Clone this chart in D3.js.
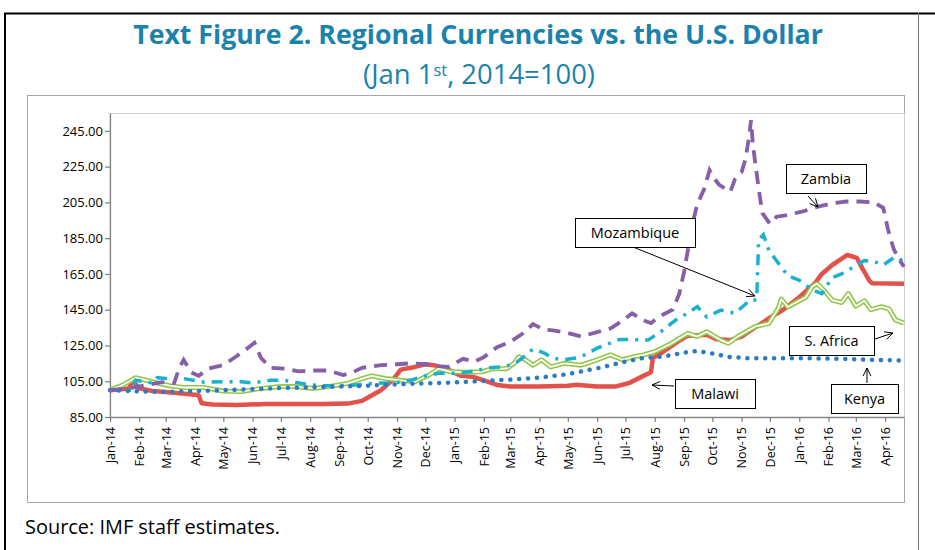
<!DOCTYPE html>
<html>
<head>
<meta charset="utf-8">
<script src="https://cdn.jsdelivr.net/npm/d3@7"></script>
<style>
  body { margin: 0; background: #fff; }
  svg { display: block; }
</style>
</head>
<body>
<svg id="chart" width="935" height="550"></svg>
<script>
// values (Jan 1st, 2014 = 100)
var zambia = [
  ["2014-01-01",100],["2014-01-20",101],["2014-02-10",103],["2014-02-25",104.5],["2014-03-10",104],
  ["2014-03-15",112],["2014-03-20",117],["2014-03-28",110],["2014-04-05",108],["2014-04-15",112],
  ["2014-05-01",114],["2014-05-15",119],["2014-05-28",124],["2014-06-03",126.5],["2014-06-10",118],
  ["2014-06-20",112.5],["2014-07-05",112],["2014-07-20",110.5],["2014-08-05",111],["2014-08-20",111],
  ["2014-09-05",108.5],["2014-09-15",110],["2014-09-25",112.5],["2014-10-15",114],["2014-11-01",114.5],
  ["2014-11-15",115],["2014-12-01",114.5],["2014-12-15",113.5],["2014-12-25",113],["2015-01-10",117.5],
  ["2015-01-22",116],["2015-02-01",118.5],["2015-02-15",124],["2015-03-01",127],["2015-03-15",132],
  ["2015-03-25",137],["2015-04-05",134],["2015-04-15",133.5],["2015-05-01",132],["2015-05-15",130],
  ["2015-06-01",132.5],["2015-06-15",134.5],["2015-06-28",139],["2015-07-08",143],["2015-07-20",139],
  ["2015-07-28",137.5],["2015-08-05",141],["2015-08-20",145],["2015-08-27",154],["2015-09-01",166],
  ["2015-09-05",178],["2015-09-10",193],["2015-09-15",204],["2015-09-22",212],["2015-09-28",223],
  ["2015-10-02",219],["2015-10-08",215],["2015-10-15",212.5],["2015-10-20",211],["2015-10-25",218],
  ["2015-11-01",222],["2015-11-05",229],["2015-11-09",242],["2015-11-11",251],["2015-11-13",237],
  ["2015-11-16",225],["2015-11-19",213],["2015-11-23",199],["2015-12-01",193],["2015-12-08",197],
  ["2015-12-20",198],["2016-01-05",200],["2016-01-20",202.5],["2016-02-05",204.5],["2016-02-20",205.5],
  ["2016-03-05",205.5],["2016-03-20",205],["2016-03-30",202],["2016-04-04",190],["2016-04-10",179],
  ["2016-04-16",173],["2016-04-21",169]
];

var mozambique = [
  ["2014-01-01",100],["2014-01-25",100],["2014-01-28",105.5],["2014-02-15",104],["2014-02-20",107],
  ["2014-03-01",106.5],["2014-03-20",106.5],["2014-04-10",104.5],["2014-05-01",104.7],["2014-05-20",104.7],
  ["2014-06-01",104],["2014-06-20",105.5],["2014-07-05",105.5],["2014-07-15",104.5],["2014-08-01",103],
  ["2014-08-15",102.5],["2014-09-01",102.5],["2014-09-20",103],["2014-10-10",104],["2014-10-25",103.8],
  ["2014-11-15",105.5],["2014-12-01",108],["2014-12-15",109.5],["2015-01-05",109.4],["2015-01-25",111],
  ["2015-02-05",112.5],["2015-02-20",113],["2015-03-05",114.5],["2015-03-15",118.5],["2015-03-25",123],
  ["2015-04-05",121],["2015-04-15",118],["2015-04-25",117],["2015-05-10",118],["2015-05-20",120],
  ["2015-06-01",123.5],["2015-06-10",125.3],["2015-06-25",128.4],["2015-07-25",128],["2015-08-10",133.7],
  ["2015-08-25",140],["2015-09-05",143],["2015-09-15",146.7],["2015-09-25",141],["2015-10-10",144.8],
  ["2015-10-25",143],["2015-11-10",150.4],["2015-11-17",150.5],["2015-11-19",184],["2015-11-24",187],
  ["2015-11-30",178],["2015-12-10",171],["2015-12-20",164],["2016-01-01",161.5],["2016-01-15",156],
  ["2016-01-25",154],["2016-02-05",163],["2016-02-15",165],["2016-02-28",169],["2016-03-10",172.5],
  ["2016-03-20",172],["2016-03-30",170],["2016-04-10",174],["2016-04-16",174],["2016-04-21",170.5]
];

var malawi = [
  ["2014-01-01",100],["2014-01-21",101],["2014-01-25",105.5],["2014-02-01",101],["2014-02-15",99.5],
  ["2014-03-01",99],["2014-03-15",98.3],["2014-04-01",97.5],["2014-04-05",97],["2014-04-08",92.7],
  ["2014-04-20",92],["2014-05-15",91.7],["2014-06-15",92.3],["2014-07-15",92.3],["2014-08-15",92.3],
  ["2014-09-10",92.5],["2014-09-25",94],["2014-10-05",97],["2014-10-15",100],["2014-10-28",106],
  ["2014-11-05",111.5],["2014-11-20",113],["2014-12-01",114.5],["2014-12-10",114],["2014-12-25",111.5],
  ["2015-01-08",108],["2015-01-20",107.5],["2015-02-01",105.5],["2015-02-15",102.9],["2015-03-01",102],
  ["2015-04-01",102],["2015-05-01",102.5],["2015-05-10",103],["2015-06-01",102],["2015-06-20",102],
  ["2015-07-05",104],["2015-07-20",108],["2015-07-28",110],["2015-07-30",118],["2015-08-10",121.5],
  ["2015-08-25",127],["2015-09-05",130.5],["2015-09-25",131],["2015-10-05",128.5],["2015-10-20",128],
  ["2015-11-01",130],["2015-11-15",135],["2015-12-01",140.5],["2015-12-15",145],["2016-01-01",152],
  ["2016-01-18",160],["2016-01-25",165],["2016-02-05",170],["2016-02-21",175.6],["2016-03-02",174],
  ["2016-03-08",168],["2016-03-15",161.5],["2016-03-18",159.8],["2016-04-21",159.5]
];

var southAfrica = [
  ["2014-01-01",100],["2014-01-15",103],["2014-01-28",107],["2014-02-05",106],["2014-02-20",104],
  ["2014-03-05",102.5],["2014-03-20",101.5],["2014-04-10",101.5],["2014-05-01",99.5],["2014-05-20",99.2],
  ["2014-06-10",101],["2014-07-01",102],["2014-07-15",102],["2014-08-05",101],["2014-08-20",102],
  ["2014-09-10",103.8],["2014-09-25",106.5],["2014-10-05",108],["2014-10-20",106.5],["2014-11-05",105.5],
  ["2014-11-20",104.7],["2014-12-05",108.5],["2014-12-15",112],["2014-12-28",110.3],["2015-01-15",110],
  ["2015-01-30",110.3],["2015-02-10",112],["2015-02-25",112],["2015-03-05",115],["2015-03-10",118.7],
  ["2015-03-17",117],["2015-03-25",114],["2015-04-03",117],["2015-04-13",113],["2015-04-27",115],
  ["2015-05-15",114],["2015-06-01",117],["2015-06-15",119.7],["2015-06-28",117],["2015-07-10",118.7],
  ["2015-07-20",119.7],["2015-08-01",121.5],["2015-08-18",126],["2015-09-05",131.8],["2015-09-15",130],
  ["2015-09-25",132.7],["2015-10-10",128],["2015-10-18",126.2],["2015-10-28",130],["2015-11-15",135.5],
  ["2015-11-30",137.4],["2015-12-10",146],["2015-12-13",151],["2015-12-20",146.5],["2016-01-01",150],
  ["2016-01-08",152],["2016-01-15",158],["2016-01-20",159.5],["2016-01-27",156],["2016-02-05",150.4],
  ["2016-02-15",149],["2016-02-22",154],["2016-03-01",147],["2016-03-10",150],["2016-03-17",145],
  ["2016-03-28",146.7],["2016-04-05",145.5],["2016-04-12",139.3],["2016-04-21",137.5]
];

var kenya = [
  ["2014-01-01",100],["2014-02-01",99.3],["2014-03-01",99],["2014-04-01",99.5],["2014-05-01",100],
  ["2014-06-01",100.5],["2014-07-01",101.2],["2014-08-01",101.6],["2014-09-01",102],["2014-10-01",102.5],
  ["2014-11-01",103.3],["2014-12-01",103.8],["2015-01-01",104.3],["2015-02-01",105.2],["2015-03-01",105.9],
  ["2015-04-01",107],["2015-05-01",109],["2015-06-01",112.2],["2015-07-01",116],["2015-07-20",118],
  ["2015-08-10",118.8],["2015-09-01",121],["2015-09-15",122],["2015-10-01",120.5],["2015-10-20",118.5],
  ["2015-11-10",117.8],["2015-12-10",117.8],["2016-01-15",117.8],["2016-02-15",117.5],["2016-03-15",117],
  ["2016-04-21",116.5]
];

var yTicks = [85, 105, 125, 145, 165, 185, 205, 225, 245];
var dateStart = "2014-01-01", dateEnd = "2016-04-21";

var FONT = "'Open Sans', 'Noto Sans', sans-serif";
var parseDate = d3.timeParse("%Y-%m-%d");
var svg = d3.select("#chart");

// fit a text element to a pixel width by changing its font size
function fitWidth(sel, target) {
  var fs = parseFloat(sel.attr("font-size"));
  var len = sel.node().getComputedTextLength();
  sel.attr("font-size", (fs * target / len).toFixed(2));
}

// outer frame
svg.append("line").attr("x1", 4).attr("x2", 935).attr("y1", 13.5).attr("y2", 13.5)
  .attr("stroke", "#000").attr("stroke-width", 2);
svg.append("line").attr("x1", 5).attr("x2", 5).attr("y1", 13).attr("y2", 550)
  .attr("stroke", "#000").attr("stroke-width", 2);
svg.append("line").attr("x1", 918.5).attr("x2", 918.5).attr("y1", 13).attr("y2", 550)
  .attr("stroke", "#777").attr("stroke-width", 1);

// titles
var title = svg.append("text")
  .attr("x", 478).attr("y", 44)
  .attr("text-anchor", "middle")
  .attr("font-family", FONT).attr("font-weight", 700).attr("font-size", 23)
  .attr("fill", "#1a82ad")
  .text("Text Figure 2. Regional Currencies vs. the U.S. Dollar");
fitWidth(title, 690);

var sub = svg.append("text")
  .attr("x", 479).attr("y", 84)
  .attr("text-anchor", "middle")
  .attr("font-family", FONT).attr("font-size", 21)
  .attr("fill", "#1a82ad");
sub.append("tspan").text("(Jan 1");
sub.append("tspan").attr("dy", -8).attr("font-size", "0.6em").text("st");
sub.append("tspan").attr("dy", 8).text(", 2014=100)");
fitWidth(sub, 232);

// chart area
svg.append("rect")
  .attr("x", 27.5).attr("y", 95.5).attr("width", 877).attr("height", 407)
  .attr("fill", "none").attr("stroke", "#a6a6a6");

// plot area
var plotLeft = 110, plotRight = 904, plotTop = 113, plotBottom = 417;

var x = d3.scaleTime()
  .domain([parseDate(dateStart), parseDate(dateEnd)])
  .range([plotLeft, plotRight]);

var y = d3.scaleLinear()
  .domain([85, 255])
  .range([plotBottom, plotTop]);

svg.append("rect")
  .attr("x", plotLeft).attr("y", plotTop + 0.5)
  .attr("width", plotRight - plotLeft + 0.5).attr("height", plotBottom - plotTop)
  .attr("fill", "none").attr("stroke", "#d0d0d0");

var yAxis = svg.append("g")
  .attr("transform", "translate(" + plotLeft + ",0)")
  .call(d3.axisLeft(y).tickValues(yTicks).tickFormat(d3.format(".2f")).tickSize(5).tickSizeOuter(0));

var xAxis = svg.append("g")
  .attr("transform", "translate(0," + plotBottom + ")")
  .call(d3.axisBottom(x).ticks(d3.timeMonth.every(1)).tickFormat(d3.timeFormat("%b-%y"))
    .tickSize(5).tickSizeOuter(0));

[yAxis, xAxis].forEach(function (g) {
  g.select(".domain").attr("stroke", "#868686").attr("stroke-width", 1.3);
  g.selectAll(".tick line").attr("stroke", "#868686").attr("stroke-width", 1.3);
  g.selectAll("text").attr("font-family", FONT).attr("fill", "#000");
});
yAxis.selectAll("text").attr("x", -7).attr("font-size", 13);

xAxis.selectAll("text")
  .attr("font-size", 12.5)
  .attr("transform", "rotate(-90)")
  .attr("x", -10).attr("y", 0).attr("dy", "0.35em")
  .style("text-anchor", "end");

// series
var line = d3.line()
  .x(function (d) { return x(parseDate(d[0])); })
  .y(function (d) { return y(d[1]); });

svg.append("path").datum(malawi)
  .attr("d", line).attr("fill", "none")
  .attr("stroke", "#e4514b").attr("stroke-width", 4.5).attr("stroke-linejoin", "round");

svg.append("path").datum(southAfrica)
  .attr("d", line).attr("fill", "none")
  .attr("stroke", "#92c64a").attr("stroke-width", 5).attr("stroke-linejoin", "round");
svg.append("path").datum(southAfrica)
  .attr("d", line).attr("fill", "none")
  .attr("stroke", "#fff").attr("stroke-width", 1.8).attr("stroke-linejoin", "round");

svg.append("path").datum(mozambique)
  .attr("d", line).attr("fill", "none")
  .attr("stroke", "#1ab0d0").attr("stroke-width", 3.5)
  .attr("stroke-dasharray", "11,7,3,7");

svg.append("path").datum(kenya)
  .attr("d", line).attr("fill", "none")
  .attr("stroke", "#2b7cc3").attr("stroke-width", 4.5)
  .attr("stroke-linecap", "round").attr("stroke-dasharray", "0.1,8.8");

svg.append("path").datum(zambia)
  .attr("d", line).attr("fill", "none")
  .attr("stroke", "#8560a8").attr("stroke-width", 3.8)
  .attr("stroke-dasharray", "13,8");

// callout boxes
var notes = [
  { text: "Zambia",     x: 786, y: 164, w: 80,  h: 29, ax1: 808, ay1: 196, ax2: 818, ay2: 207 },
  { text: "Mozambique", x: 575, y: 218, w: 120, h: 29, ax1: 633, ay1: 247, ax2: 755, ay2: 296 },
  { text: "S. Africa",  x: 789, y: 326, w: 85,  h: 29, ax1: 875, ay1: 339, ax2: 893, ay2: 333 },
  { text: "Malawi",     x: 675, y: 379, w: 80,  h: 29, ax1: 674, ay1: 386, ax2: 652, ay2: 385 },
  { text: "Kenya",      x: 831, y: 384, w: 67,  h: 29, ax1: 867, ay1: 383, ax2: 867, ay2: 368 }
];

var note = svg.selectAll("g.note").data(notes).enter().append("g").attr("class", "note");

note.append("line")
  .attr("x1", function (d) { return d.ax1; }).attr("y1", function (d) { return d.ay1; })
  .attr("x2", function (d) { return d.ax2; }).attr("y2", function (d) { return d.ay2; })
  .attr("stroke", "#000").attr("stroke-width", 1);

note.append("path")
  .attr("d", function (d) {
    var a = Math.atan2(d.ay2 - d.ay1, d.ax2 - d.ax1), L = 9, s = 0.45;
    var p1 = [d.ax2 - L * Math.cos(a - s), d.ay2 - L * Math.sin(a - s)];
    var p2 = [d.ax2 - L * Math.cos(a + s), d.ay2 - L * Math.sin(a + s)];
    return "M" + p1 + "L" + [d.ax2, d.ay2] + "L" + p2;
  })
  .attr("fill", "none").attr("stroke", "#000").attr("stroke-width", 1);

note.append("rect")
  .attr("x", function (d) { return d.x + 0.5; }).attr("y", function (d) { return d.y + 0.5; })
  .attr("width", function (d) { return d.w; }).attr("height", function (d) { return d.h; })
  .attr("fill", "#fff").attr("stroke", "#000").attr("stroke-width", 1);

note.append("text")
  .attr("x", function (d) { return d.x + d.w / 2; })
  .attr("y", function (d) { return d.y + d.h / 2; })
  .attr("dy", "0.35em")
  .attr("text-anchor", "middle")
  .attr("font-family", FONT).attr("font-size", 14.5).attr("fill", "#000")
  .text(function (d) { return d.text; });

// source note
var src = svg.append("text")
  .attr("x", 25).attr("y", 534)
  .attr("font-family", FONT).attr("font-size", 18).attr("fill", "#000")
  .text("Source: IMF staff estimates.");
fitWidth(src, 255);
</script>
</body>
</html>
